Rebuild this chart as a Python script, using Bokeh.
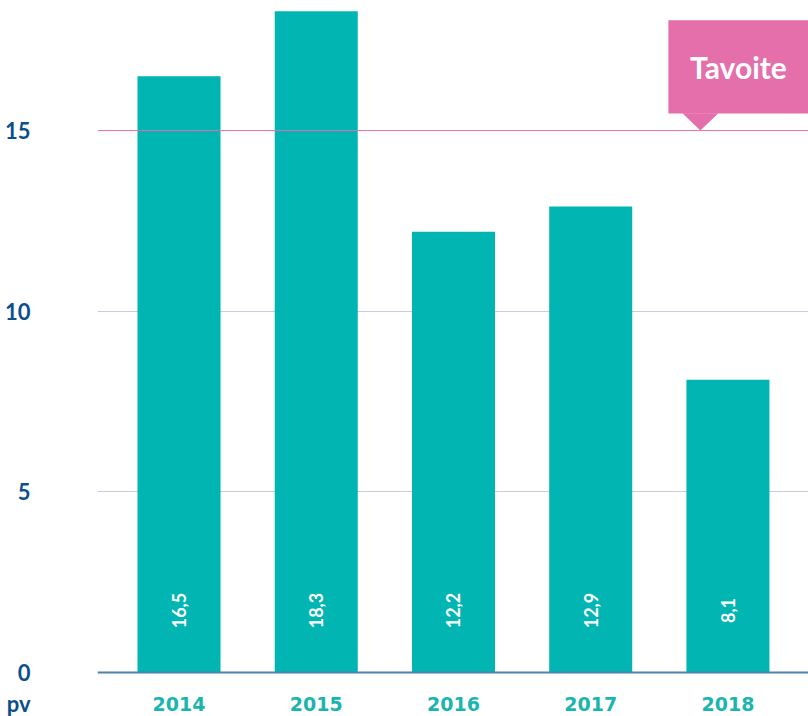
import math
from bokeh.plotting import figure
from bokeh.models import ColumnDataSource, Range1d, FixedTicker, Span
from bokeh.core.properties import value
from bokeh.embed import file_html
from bokeh.resources import INLINE

# ---- data ----
years = [2014, 2015, 2016, 2017, 2018]
year_labels = ["2014", "2015", "2016", "2017", "2018"]
values = [16.5, 18.3, 12.2, 12.9, 8.1]
value_labels = ["16,5", "18,3", "12,2", "12,9", "8,1"]
y_ticks = [0, 5, 10, 15]
y_tick_labels = ["0", "5", "10", "15"]
unit_label = "pv"
target = 15
target_label = "Tavoite"

FONT = "Lato"
NUMFONT = "DejaVu Sans"
TEAL = "#00B5B2"
DARK = "#0B4F8C"
PINK = "#E46FAA"

PX = 36.13                      # pixels per unit on the y scale
label_row = -31 / PX            # row for the category labels under the axis
value_row = 62 / PX             # row for the rotated value labels inside bars

p = figure(width=808, height=716, output_backend="svg", toolbar_location=None,
           x_range=Range1d(2013.406, 2018.587), y_range=Range1d(-44 / PX, 18.6),
           min_border_left=97, min_border_right=0, min_border_top=0, min_border_bottom=0)
p.outline_line_color = None
p.background_fill_color = "white"
p.border_fill_color = "white"

src = ColumnDataSource(dict(x=years, top=values, lab=value_labels,
                            ly=[value_row] * len(years), yl=year_labels,
                            row=[label_row] * len(years)))
p.vbar(x="x", top="top", width=0.605, bottom=0, source=src, color=TEAL, line_color=None)
p.text(x="x", y="ly", text="lab", source=src, angle=math.pi / 2,
       text_align="center", text_baseline="middle", text_color="white",
       text_font=value(FONT), text_font_style="bold", text_font_size="18px")

# category labels under the axis line
p.text(x="x", y="row", text="yl", source=src,
       text_align="center", text_baseline="middle", text_color="#1BB5B0",
       text_font=value(NUMFONT), text_font_style="bold", text_font_size="19px")

# grid
p.xgrid.visible = False
g = p.ygrid[0]
g.ticker = FixedTicker(ticks=[t for t in y_ticks if t not in (0, target)])
g.grid_line_color = "#C3CCE4"
g.grid_line_width = 1

# target line
p.add_layout(Span(location=target, dimension="width", line_color=PINK, line_width=1))
# axis line at zero
p.add_layout(Span(location=0, dimension="width", line_color="#4C82AC", line_width=2))

# y axis (with the unit label in the row of the category labels)
ya = p.yaxis[0]
ya.ticker = FixedTicker(ticks=[label_row] + y_ticks)
overrides = dict(zip(y_ticks, y_tick_labels))
overrides[label_row] = unit_label
ya.major_label_overrides = overrides
ya.axis_line_color = None
ya.major_tick_line_color = None
ya.minor_tick_line_color = None
ya.major_label_text_color = DARK
ya.major_label_text_font = FONT
ya.major_label_text_font_style = "bold"
ya.major_label_text_font_size = "22px"
ya.major_label_standoff = 61

p.xaxis.visible = False

# callout for target
box_left = 2017.566
box_right = 2018.587
box_bottom = target + 0.47
box_top = target + 3.05
tip_x = 2017.799
half = 0.131
p.patch(x=[box_left, box_right, box_right, box_left],
        y=[box_bottom, box_bottom, box_top, box_top], color=PINK, line_color=None)
p.patch(x=[tip_x - half, tip_x + half, tip_x],
        y=[box_bottom + 0.01, box_bottom + 0.01, target], color=PINK, line_color=None)
p.text(x=[(box_left + box_right) / 2], y=[(box_bottom + box_top) / 2], text=[target_label],
       text_align="center", text_baseline="middle", text_color="white",
       text_font=value(FONT), text_font_style="bold", text_font_size="30px")

open("out.html", "w").write(file_html(p, INLINE))
